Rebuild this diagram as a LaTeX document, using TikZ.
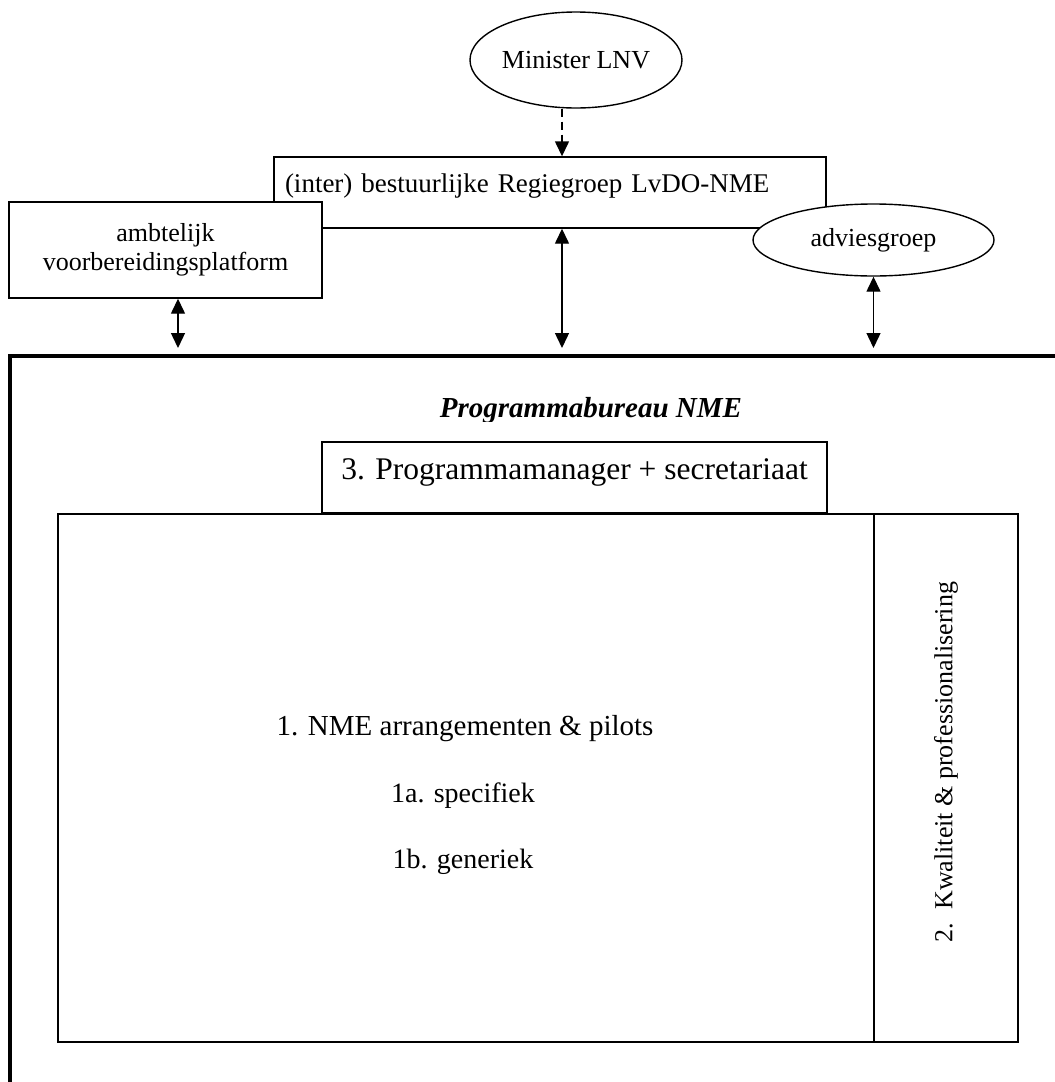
\documentclass[tikz,border=0pt]{standalone}
\usepackage{fontspec}
\setmainfont{Liberation Serif}
\usetikzlibrary{shapes.geometric,arrows.meta}

\begin{document}
\begin{tikzpicture}[x=1pt,y=-1pt,line width=1.4pt]
\tikzstyle{box}=[draw,rectangle,inner sep=0pt,font=\fontsize{26}{29}\selectfont]
\tikzstyle{ovaal}=[draw,ellipse,inner sep=0pt,fill=white,font=\fontsize{26}{29}\selectfont]
\tikzstyle{tekst}=[inner sep=0pt,anchor=base,font=\fontsize{29}{33}\selectfont]
\tikzstyle{pijl}=[{Triangle[width=14pt,length=15pt]}-{Triangle[width=14pt,length=15pt]}]
\useasboundingbox (0,0) rectangle (1055,1082);
\node[ovaal,minimum width=212pt,minimum height=96pt] (minister) at (576,60) {Minister LNV};
\node[box,minimum width=552pt,minimum height=71pt,text width=530pt,align=left,inner xsep=11pt,text depth=18pt,font=\fontsize{27}{30}\selectfont] (regie) at (550,192.5) {(inter) bestuurlijke Regiegroep LvDO-NME};
\node[box,fill=white,minimum width=313pt,minimum height=96pt,align=center] (ambt) at (165.5,250) {ambtelijk\\voorbereidingsplatform};
\node[ovaal,minimum width=241pt,minimum height=72pt] (advies) at (873.5,240) {adviesgroep};
\coordinate (pa) at (178,348);
\coordinate (pb) at (562,348);
\coordinate (pc) at (874,348);
\draw[dash pattern=on 8pt off 5pt,-{Triangle[width=14pt,length=15pt]}] (minister.south -| pb) -- (regie.north -| pb);
\draw[pijl] (ambt.south -| pa) -- (pa);
\draw[pijl] (regie.south -| pb) -- (pb);
\draw[pijl] (advies.south) -- (advies.south |- pc);
\draw[line width=3.5pt] (1055,356) -- (10,356) -- (10,1082);
\begin{scope}
\clip (300,370) rectangle (900,421);
\node[tekst,font=\fontsize{29}{34}\selectfont\bfseries\itshape] (titel) at (591,417) {Programmabureau NME};
\end{scope}
\node[box,minimum width=505pt,minimum height=71pt,text depth=17pt,font=\fontsize{31.5}{36}\selectfont] (manager) at (574.5,477.5) {3. Programmamanager + secretariaat};
\node[box,minimum width=816pt,minimum height=528pt] (arr) at (466,778) {};
\node[box,rotate=90,minimum width=528pt,minimum height=144pt] (kwal) at (946,778) {\hspace*{32pt}2.\ \ Kwaliteit \& professionalisering};
\node[tekst] (nme) at (465,735) {1. NME arrangementen \& pilots};
\node[tekst,font=\fontsize{28}{32}\selectfont] (spec) at (463,802) {1a. specifiek};
\node[tekst,font=\fontsize{28}{32}\selectfont] (gen) at (463,868) {1b. generiek};
\end{tikzpicture}
\end{document}
